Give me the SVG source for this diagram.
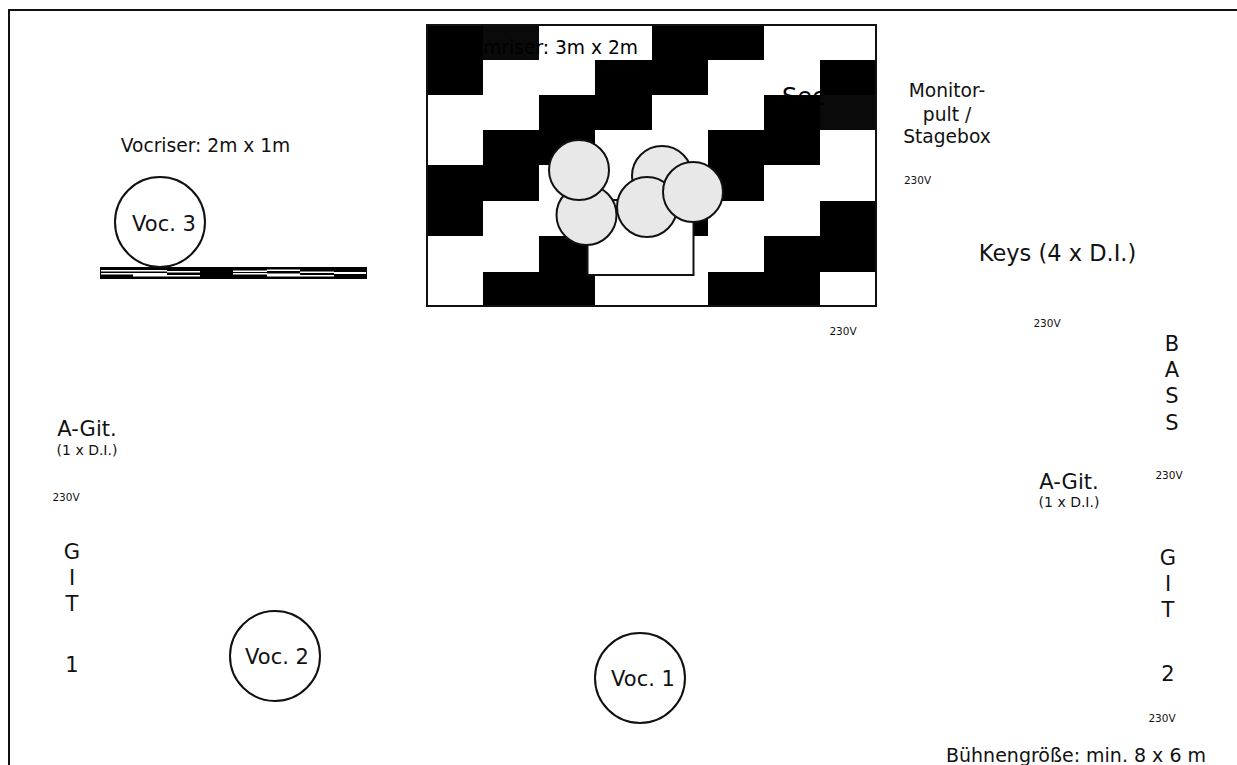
<svg xmlns="http://www.w3.org/2000/svg" width="1237" height="765" viewBox="0 0 1237 765">
<style>
text{font-family:"DejaVu Sans",Verdana,sans-serif;fill:#111;text-anchor:middle}
.m{font-size:18.67px}.l{font-size:21px}.s{font-size:10.5px}.d{font-size:14px}
.k{fill:#000}.w{fill:#fff}.q{fill:#0a0a0a}
.v{fill:#fff;stroke:#111;stroke-width:2}
.g{fill:#e8e8e8;stroke:#111;stroke-width:2}
</style>
<rect width="1237" height="765" fill="#fff"/>
<path d="M9 765V10H1237" fill="none" stroke="#111" stroke-width="2"/>
<g id="drumriser">
<rect x="427" y="25" width="449" height="281" class="w"/>
<path class="k" d="M427 25h56v35h-56zM652 25h112v35h-112zM427 60h56v35h-56zM595 60h113v35h-113zM820 60h56v35h-56zM539 95h113v35h-113zM764 95h56v35h-56zM483 130h112v35h-112zM708 130h112v35h-112zM427 165h112v36h-112zM652 165h112v36h-112zM427 201h56v35h-56zM595 201h113v35h-113zM820 201h56v35h-56zM539 236h113v36h-113zM764 236h112v36h-112zM483 272h112v34h-112zM708 272h112v34h-112z"/>
<rect x="483" y="25" width="56" height="35" class="q"/>
<rect x="820" y="95" width="56" height="35" class="q"/>
<rect x="427" y="25" width="449" height="281" fill="none" stroke="#111" stroke-width="2"/>
<text class="m" x="638" y="54" style="text-anchor:end;fill:#000">Drumriser: 3m x 2m</text>
<text x="782" y="105" font-size="24" style="text-anchor:start;fill:#000">Sec</text>
</g>
<g id="drums">
<rect x="587.500" y="200" width="106" height="75" fill="#fff" stroke="#111" stroke-width="2"/>
<circle class="g" cx="662" cy="176" r="30"/>
<circle class="g" cx="586.500" cy="215" r="30"/>
<circle class="g" cx="579" cy="170" r="30"/>
<circle class="g" cx="647" cy="207" r="30"/>
<circle class="g" cx="693" cy="192" r="30"/>
</g>
<g id="monitor"><text class="m" x="947" y="97">Monitor-</text><text class="m" x="947" y="121">pult /</text><text class="m" x="947" y="143">Stagebox</text></g>
<g id="vocriser"><text class="m" x="205.500" y="152">Vocriser: 2m x 1m</text>
<rect x="100" y="267" width="267" height="12" class="k"/>
<path class="w" d="M101 270h32v1.500h-32zM101 273h32v1.500h-32zM133 270h34v1.500h-34zM133 273h34v3.500h-34zM167 271h33v1.500h-33zM167 275h33v1.500h-33zM233 270.500h34v1.500h-34zM233 273h34v1.500h-34zM267 269.500h33v1.500h-33zM267 273.500h33v3h-33zM300 271.500h34v1.500h-34zM300 275h34v1.500h-34zM334 272h32v2h-32z"/>
</g>
<g id="voc3"><circle class="v" cx="160" cy="222" r="45"/><text class="l" x="164" y="231">Voc. 3</text></g>
<g id="voc2"><circle class="v" cx="275" cy="656" r="45"/><text class="l" x="277" y="664">Voc. 2</text></g>
<g id="voc1"><circle class="v" cx="640" cy="678" r="45"/><text class="l" x="643" y="686">Voc. 1</text></g>
<g id="keys"><text class="l" x="1057.500" y="261" style="font-size:22.500px">Keys (4 x D.I.)</text></g>
<g id="bass"><text class="l" x="1172" y="351">B</text><text class="l" x="1172" y="377">A</text><text class="l" x="1172" y="403">S</text><text class="l" x="1172" y="430">S</text></g>
<g id="agit1"><text class="l" x="87" y="436">A-Git.</text><text class="d" x="87" y="455">(1 x D.I.)</text></g>
<g id="agit2"><text class="l" x="1069" y="489">A-Git.</text><text class="d" x="1069" y="507">(1 x D.I.)</text></g>
<g id="git1"><text class="l" x="72" y="559">G</text><text class="l" x="72" y="585">I</text><text class="l" x="72" y="611">T</text><text class="l" x="72" y="672">1</text></g>
<g id="git2"><text class="l" x="1168" y="565">G</text><text class="l" x="1168" y="591">I</text><text class="l" x="1168" y="617">T</text><text class="l" x="1168" y="681">2</text></g>
<g id="power">
<text class="s" x="917.500" y="184">230V</text><text class="s" x="843" y="335">230V</text><text class="s" x="1047" y="327">230V</text><text class="s" x="1169" y="479">230V</text><text class="s" x="66" y="501">230V</text><text class="s" x="1162" y="722">230V</text>
</g>
<g id="size"><text class="m" x="946" y="762" style="text-anchor:start;font-size:19px">Bühnengröße: min. 8 x 6 m</text></g>
</svg>
